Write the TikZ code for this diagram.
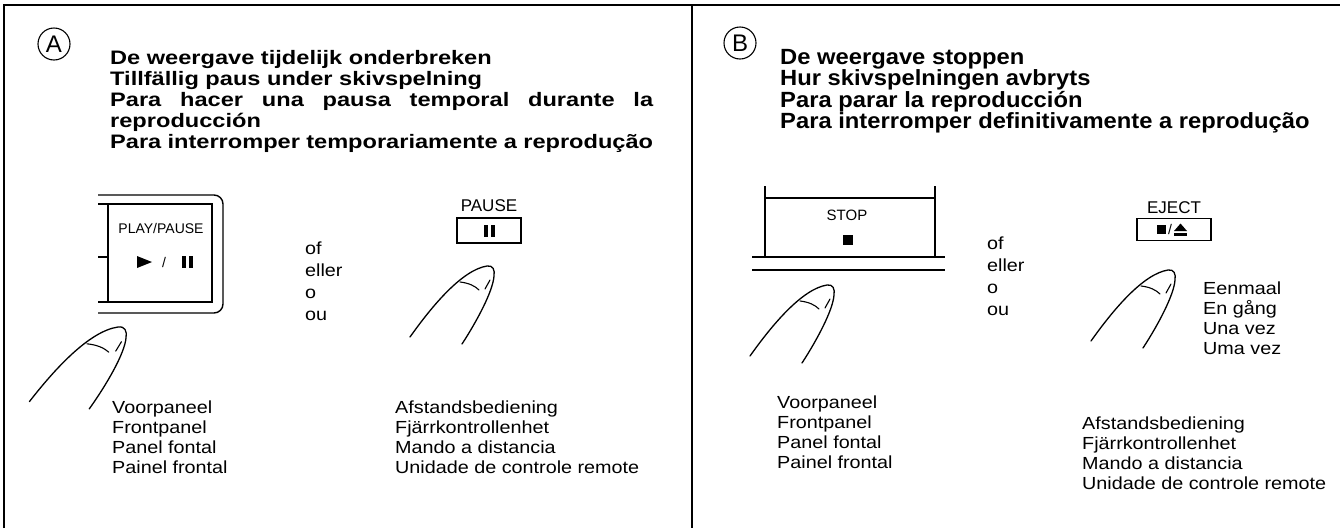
\documentclass[tikz,border=0pt]{standalone}
\usepackage{fontspec}
\setmainfont{Liberation Sans}
\newfontfamily\headAfont[FakeStretch=1.21]{Liberation Sans}
\newfontfamily\headBfont[FakeStretch=1.08]{Liberation Sans}
\newfontfamily\bodyfont[FakeStretch=1.13]{Liberation Sans}
\begin{document}
\begin{tikzpicture}[x=1pt,y=-1pt,
  frame/.style={line width=1.8pt},
  panelline/.style={line width=1.4pt},
  thickline/.style={line width=2.4pt},
  letterring/.style={circle,draw,line width=1.1pt,minimum size=32pt,inner sep=0pt,
    font=\fontsize{24}{24}\selectfont},
  headA/.style={anchor=base west,inner sep=0pt,font=\headAfont\bfseries\fontsize{19.5}{19.5}\selectfont},
  headB/.style={anchor=base west,inner sep=0pt,font=\headBfont\bfseries\fontsize{22}{22}\selectfont},
  body/.style={anchor=base west,inner sep=0pt,font=\bodyfont\fontsize{17.5}{17.5}\selectfont},
  keylabel/.style={anchor=base,inner sep=0pt,font=\fontsize{17}{17}\selectfont},
  smalllabel/.style={anchor=base,inner sep=0pt,font=\fontsize{14}{14}\selectfont},
  keybox/.style={draw,line width=1.2pt,inner sep=0pt},
  finger/.pic={
    \draw[line width=1.3pt,line cap=round]
      (-77,71) .. controls (-55,40) and (-25,4) .. (0,0)
      .. controls (6,-1) and (8,4) .. (7,10)
      .. controls (6,25) and (-10,55) .. (-25,78);
    \draw[line width=1.1pt,line cap=round]
      (-27,16) .. controls (-18,17) and (-12,20) .. (-8,24);
    \draw[line width=1.1pt,line cap=round] (-2,23) -- (3,14);
  }]
\fill[white] (0,0) rectangle (1343,528);
\useasboundingbox (0,0) rectangle (1343,528);

% outer frame and divider
\coordinate (tl) at (4,5);
\coordinate (tr) at (1340,5);
\coordinate (bl) at (4,528);
\coordinate (mt) at (692,5);
\coordinate (mb) at (692,528);
\draw[frame] (bl) -- (tl) -- (tr);
\draw[frame] (mt) -- (mb);

% ---------------- panel A: pause ----------------
\node[letterring] (ringA) at (54,44) {A};
\node[headA] (hA1) at (110,64) {De weergave tijdelijk onderbreken};
\node[headA] (hA2) at (110,85) {Tillfällig paus under skivspelning};
\node[headA] (hA3) at (110,106) {\makebox[543pt][s]{Para hacer una pausa temporal durante la}};
\node[headA] (hA4) at (110,127) {reproducción};
\node[headA] (hA5) at (110,148) {\makebox[543pt][s]{Para interromper temporariamente a reprodução}};

% front panel PLAY/PAUSE key
\draw[panelline,rounded corners=9pt] (98,195) -- (223,195) -- (223,313) -- (98,313);
\draw[thickline] (98,204) -- (212,204) -- (212,302) -- (98,302);
\draw[thickline] (108,204) -- (108,302);
\draw[thickline] (98,257) -- (108,257);
\node[smalllabel] (playlbl) at (161,233) {PLAY/PAUSE};
\fill (137,256) -- (152,262) -- (137,268) -- cycle;
\node[smalllabel] (playslash) at (164,267.5) {/};
\fill (182,256) rectangle (186,268);
\fill (189,256) rectangle (193,268);
\pic[xscale=1.15,yscale=1.05] at (118,327) {finger};

\node[body] (orA1) at (305,254) {of};
\node[body] (orA2) at (305,276) {eller};
\node[body] (orA3) at (305,298) {o};
\node[body] (orA4) at (305,320) {ou};

% remote PAUSE key
\node[keylabel] (pauselbl) at (489,211) {PAUSE};
\node[keybox,minimum width=64pt,minimum height=25pt] (pausekey) at (489,230.5) {};
\fill (483.5,224.5) rectangle (487.5,236.5);
\fill (490.5,224.5) rectangle (494.5,236.5);
\pic at (487,266) {finger};

\node[body] (fpA1) at (112,413) {Voorpaneel};
\node[body] (fpA2) at (112,433) {Frontpanel};
\node[body] (fpA3) at (112,453) {Panel fontal};
\node[body] (fpA4) at (112,473) {Painel frontal};

\node[body] (rcA1) at (395,413) {Afstandsbediening};
\node[body] (rcA2) at (395,433) {Fjärrkontrollenhet};
\node[body] (rcA3) at (395,453) {Mando a distancia};
\node[body] (rcA4) at (395,473) {Unidade de controle remote};

% ---------------- panel B: stop ----------------
\node[letterring] (ringB) at (740,43) {B};
\node[headB] (hB1) at (780,64) {De weergave stoppen};
\node[headB] (hB2) at (780,85.5) {Hur skivspelningen avbryts};
\node[headB] (hB3) at (780,107) {Para parar la reproducción};
\node[headB] (hB4) at (780,128.5) {Para interromper definitivamente a reprodução};

% front panel STOP key
\draw[thickline] (765,186) -- (765,257);
\draw[panelline] (935,186) -- (935,257);
\draw[panelline] (765,198) -- (935,198);
\draw[thickline] (752,257) -- (945,257);
\draw[panelline] (752,270) -- (945,270);
\node[keylabel,font=\fontsize{15}{15}\selectfont] (stoplbl) at (847,220.5) {STOP};
\fill (843,235) rectangle (853,245);
\pic at (827,285) {finger};

\node[body] (orB1) at (987,249) {of};
\node[body] (orB2) at (987,271) {eller};
\node[body] (orB3) at (987,293) {o};
\node[body] (orB4) at (987,315) {ou};

% remote EJECT key
\node[keylabel] (ejectlbl) at (1174,213) {EJECT};
\node[keybox,minimum width=74pt,minimum height=22pt] (ejectkey) at (1174,229.5) {};
\fill (1157,225) rectangle (1166,234);
\node[smalllabel] (ejectslash) at (1170,234) {/};
\fill (1174,231) -- (1187,231) -- (1180.5,223.5) -- cycle;
\fill (1174,233) rectangle (1187,235.5);
\pic at (1168,270) {finger};

\node[body] (once1) at (1203,294) {Eenmaal};
\node[body] (once2) at (1203,314) {En gång};
\node[body] (once3) at (1203,334) {Una vez};
\node[body] (once4) at (1203,354) {Uma vez};

\node[body] (fpB1) at (777,408) {Voorpaneel};
\node[body] (fpB2) at (777,428) {Frontpanel};
\node[body] (fpB3) at (777,448) {Panel fontal};
\node[body] (fpB4) at (777,468) {Painel frontal};

\node[body] (rcB1) at (1082,429) {Afstandsbediening};
\node[body] (rcB2) at (1082,449) {Fjärrkontrollenhet};
\node[body] (rcB3) at (1082,469) {Mando a distancia};
\node[body] (rcB4) at (1082,489) {Unidade de controle remote};
\end{tikzpicture}
\end{document}
